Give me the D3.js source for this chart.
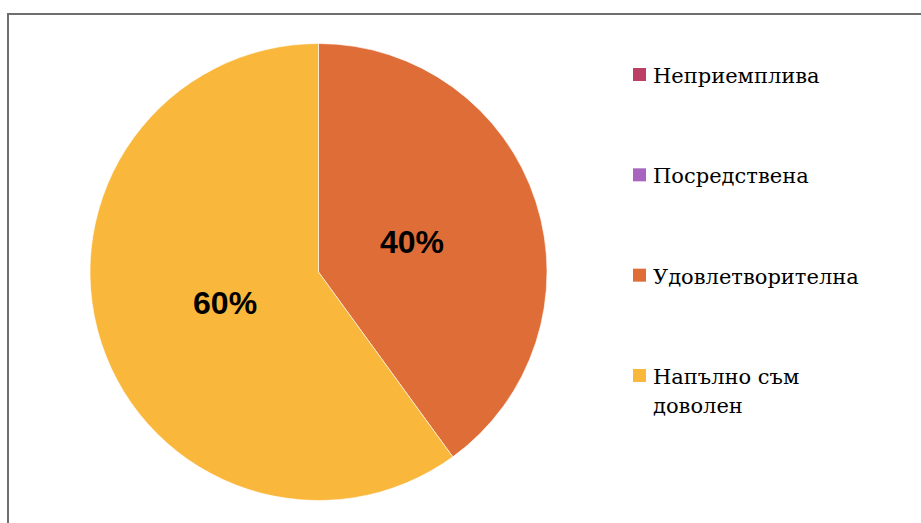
<!DOCTYPE html>
<html>
<head>
<meta charset="utf-8">
<script src="https://cdn.jsdelivr.net/npm/d3@7"></script>
<style>
  html, body { margin: 0; padding: 0; background: #ffffff; }
  svg { display: block; }
</style>
</head>
<body>
<svg id="chart" width="921" height="523"></svg>
<script>
// Survey answers and their shares (percent)
const categories = ["Неприемплива", "Посредствена", "Удовлетворителна", "Напълно съм доволен"];
const values = [0, 0, 40, 60];
const colors = ["#BC3F66", "#A865C0", "#DF6D37", "#F9B73B"];
// Legend rows (long names wrap onto two lines)
const legendLines = [["Неприемплива"], ["Посредствена"], ["Удовлетворителна"], ["Напълно съм", "доволен"]];

const svg = d3.select("#chart");
const W = 921, H = 523;

// chart frame
svg.append("rect")
  .attr("x", 8).attr("y", 14)
  .attr("width", W + 10).attr("height", H + 10)
  .attr("fill", "#ffffff")
  .attr("stroke", "#6e6e6e")
  .attr("stroke-width", 2);

const cx = 318.5, cy = 272, R = 228.5;
const data = categories.map((c, i) => ({ name: c, value: values[i], color: colors[i] }));

const pie = d3.pie().sort(null).value(d => d.value);
const arcs = pie(data);
const arc = d3.arc().innerRadius(0).outerRadius(R);
const labelArc = d3.arc().innerRadius(R * 0.43).outerRadius(R * 0.43);

const g = svg.append("g").attr("transform", `translate(${cx},${cy})`);

g.selectAll("path.slice")
  .data(arcs.filter(d => d.data.value > 0))
  .join("path")
  .attr("class", "slice")
  .attr("d", arc)
  .attr("fill", d => d.data.color)
  .attr("stroke", "#ffffff")
  .attr("stroke-width", 0.6);

const fmt = d3.format(".0%");
const total = d3.sum(values);
g.selectAll("text.pct")
  .data(arcs.filter(d => d.data.value > 0))
  .join("text")
  .attr("class", "pct")
  .attr("transform", d => `translate(${labelArc.centroid(d)})`)
  .attr("text-anchor", "middle")
  .attr("dy", "0.36em")
  .attr("font-family", "Arial, 'Liberation Sans', sans-serif")
  .attr("font-weight", "bold")
  .attr("font-size", 32)
  .attr("fill", "#000000")
  .text(d => fmt(d.data.value / total));

// legend
const legend = svg.append("g").attr("transform", "translate(633,0)");
const rowY = d3.scalePoint().domain(categories).range([83, 384]);

const item = legend.selectAll("g.item")
  .data(data)
  .join("g")
  .attr("class", "item")
  .attr("transform", d => `translate(0,${rowY(d.name)})`);

item.append("rect")
  .attr("x", 0).attr("y", -15)
  .attr("width", 13).attr("height", 13)
  .attr("fill", d => d.color);

item.append("text")
  .attr("x", 20).attr("y", 0)
  .attr("font-family", "'DejaVu Serif', serif")
  .attr("font-size", 21)
  .attr("fill", "#000000")
  .selectAll("tspan")
  .data((d, i) => legendLines[i])
  .join("tspan")
  .attr("x", 20)
  .attr("dy", (d, i) => i === 0 ? 0 : 29)
  .text(d => d);
</script>
</body>
</html>
